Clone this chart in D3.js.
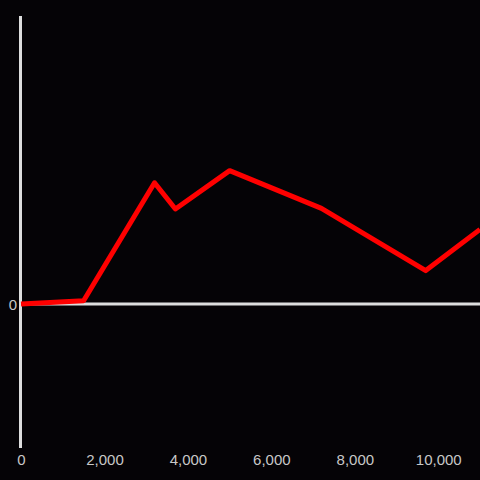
<!DOCTYPE html>
<html>
<head>
<meta charset="utf-8">
<title>line</title>
<script src="https://d3js.org/d3.v7.min.js"></script>
<style>
  body { margin: 0; background: #050306; }
  text { font-family: "Liberation Sans", Arial, sans-serif; }
</style>
</head>
<body>
<script>
// data
const xs = [0, 1500, 3200, 3700, 5000, 7200, 9700, 11000];
const ys = [0, 1.1, 42.1, 33, 46.3, 33.2, 11.6, 25.9];
const xTicks = [0, 2000, 4000, 6000, 8000, 10000];
const yTicks = [0];

const W = 480, H = 480;
const svg = d3.select("body").append("svg")
    .attr("width", W).attr("height", H)
    .style("background", "#050306");

const x = d3.scaleLinear().domain([0, 11000]).range([21, 480]);
const y = d3.scaleLinear().domain([-50, 100]).range([448, 16]);

// vertical axis line
svg.append("line")
    .attr("x1", 20.5).attr("x2", 20.5)
    .attr("y1", y(100)).attr("y2", y(-50))
    .attr("stroke", "#dddddd").attr("stroke-width", 3);

// horizontal zero line
svg.append("line")
    .attr("x1", 20).attr("x2", 480)
    .attr("y1", y(0)).attr("y2", y(0))
    .attr("stroke", "#dddddd").attr("stroke-width", 3);

// bottom tick labels (no line)
const xAxis = svg.append("g")
    .attr("transform", "translate(0,457)")
    .call(d3.axisBottom(x).tickValues(xTicks).tickSize(0).tickFormat(d3.format(",")));
xAxis.select(".domain").remove();
xAxis.selectAll("text")
    .attr("fill", "#c8c8c8")
    .style("font-size", "15px")
    .attr("dy", "0.32em");

// y tick label
const yAxis = svg.append("g")
    .attr("transform", "translate(17,1)")
    .call(d3.axisLeft(y).tickValues(yTicks).tickSize(0));
yAxis.select(".domain").remove();
yAxis.selectAll("text")
    .attr("fill", "#c8c8c8")
    .style("font-size", "15px")
    .attr("x", 0);

// the line
const line = d3.line()
    .x((d, i) => x(xs[i]))
    .y(d => y(d));

svg.append("path")
    .datum(ys)
    .attr("d", line)
    .attr("fill", "none")
    .attr("stroke", "#ff0000")
    .attr("stroke-width", 5)
    .attr("stroke-linejoin", "round");
</script>
</body>
</html>
